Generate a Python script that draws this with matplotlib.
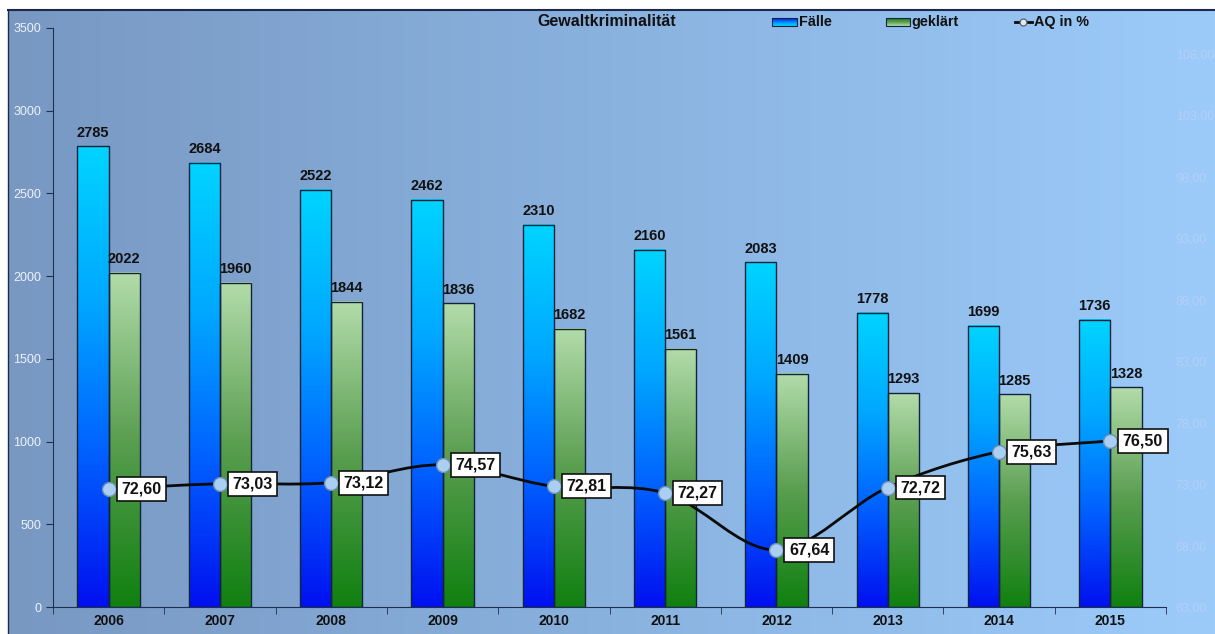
import matplotlib
matplotlib.use('Agg')
import matplotlib.pyplot as plt
import numpy as np
from matplotlib.colors import LinearSegmentedColormap
from matplotlib.patches import Rectangle, PathPatch
from matplotlib.path import Path
from matplotlib.lines import Line2D

plt.rcParams['font.family'] = ['Liberation Sans', 'DejaVu Sans']

years = ['2006', '2007', '2008', '2009', '2010', '2011', '2012', '2013', '2014', '2015']
faelle = [2785, 2684, 2522, 2462, 2310, 2160, 2083, 1778, 1699, 1736]
geklaert = [2022, 1960, 1844, 1836, 1682, 1561, 1409, 1293, 1285, 1328]
aq = [72.60, 73.03, 73.12, 74.57, 72.81, 72.27, 67.64, 72.72, 75.63, 76.50]

left_ticks = [0, 500, 1000, 1500, 2000, 2500, 3000, 3500]
right_ticks = [63, 68, 73, 78, 83, 88, 93, 98, 103, 108]

cm_blue = LinearSegmentedColormap.from_list('b', ['#0010f0', '#0060ff', '#00a8ff', '#00d4ff'])
cm_green = LinearSegmentedColormap.from_list('g', ['#108010', '#5a9e50', '#b2dcaa'])
cm_bg = LinearSegmentedColormap.from_list('bg', ['#7898c2', '#8ab2df', '#9ccbfa'])

fig = plt.figure(figsize=(12.15, 6.34), dpi=100)
W, H = 1215, 634

# background with horizontal gradient
bg = fig.add_axes([8 / W, 0, 1 - 8 / W, (H - 10) / H])
bg.imshow(np.linspace(0, 1, 256)[None, :], aspect='auto', cmap=cm_bg, extent=[0, 1, 0, 1])
bg.set_xlim(0, 1)
bg.set_ylim(0, 1)
bg.axis('off')
fig.add_artist(Line2D([8 / W, 1], [(H - 10) / H] * 2, color='#1a2a48', lw=1.5))
fig.add_artist(Line2D([8 / W] * 2, [0, (H - 10) / H], color='#1a2a48', lw=1.0))

ax = fig.add_axes([53 / W, 27 / H, (1166 - 53) / W, (607 - 28) / H])
ax.set_facecolor('none')
x = np.arange(len(years))
bw = 0.28

b1 = ax.bar(x - bw / 2, faelle, bw, facecolor='none', edgecolor='#15233a', lw=1.0, zorder=3)
b2 = ax.bar(x + bw / 2, geklaert, bw, facecolor='none', edgecolor='#15233a', lw=1.0, zorder=3)
grad = np.linspace(0, 1, 256)[:, None]
for bars, cm in ((b1, cm_blue), (b2, cm_green)):
    for r in bars:
        ax.imshow(grad, aspect='auto', cmap=cm, origin='lower', zorder=2,
                  extent=[r.get_x(), r.get_x() + r.get_width(), 0, r.get_height()])
    for r in bars:
        ax.text(r.get_x() + r.get_width() / 2, r.get_height() + 40, str(int(r.get_height())),
                ha='center', va='bottom', fontsize=10.5, fontweight='bold', color='#111111', zorder=5)

ax.set_xlim(-0.5, len(years) - 0.5)
ax.set_ylim(0, 3500)
ax.set_yticks(left_ticks)
ax.tick_params(axis='y', colors='#1f2f52', labelcolor='#eef2fa', labelsize=9, length=5, direction='out')
ax.set_xticks(x)
ax.set_xticklabels(years, fontsize=10, fontweight='bold', color='#111111')
ax.set_xticks(np.arange(len(years) + 1) - 0.5, minor=True)
ax.tick_params(axis='x', which='major', length=0, pad=5)
ax.tick_params(axis='x', which='minor', length=5, color='#1f2f52', direction='out')
for s in ('top', 'right'):
    ax.spines[s].set_visible(False)
ax.spines['left'].set_color('#1f2f52')
ax.spines['bottom'].set_color('#1f2f52')

ax2 = ax.twinx()
ax2.set_ylim(63, 110.1)
ax2.set_yticks(right_ticks)
ax2.set_yticklabels([('%.2f' % v).replace('.', ',') for v in right_ticks])
ax2.tick_params(axis='y', length=0, labelsize=9, labelcolor='#b4cffa', pad=7)
for s in ax2.spines.values():
    s.set_visible(False)

# smoothed line through AQ points (Catmull-Rom as bezier segments)
px = x.astype(float)
py = np.array(aq)
P = np.column_stack([px, py])
verts = [P[0]]
codes = [Path.MOVETO]
n = len(P)
for i in range(n - 1):
    p0 = P[max(i - 1, 0)]
    p1, p2 = P[i], P[i + 1]
    p3 = P[min(i + 2, n - 1)]
    verts += [p1 + (p2 - p0) / 6, p2 - (p3 - p1) / 6, p2]
    codes += [Path.CURVE4] * 3
ax2.add_patch(PathPatch(Path(verts, codes), facecolor='none', edgecolor='#0a0a0a', lw=2, zorder=4))
ax2.plot(px, py, 'o', ms=10, mfc='#a9cff3', mec='#6f8fb5', mew=1, zorder=5)
for xi, v in zip(px, aq):
    ax2.annotate(('%.2f' % v).replace('.', ','), (xi, v), xytext=(9, 0), textcoords='offset points',
                 ha='left', va='center', fontsize=11.5, fontweight='bold', color='#111111', zorder=6,
                 bbox=dict(boxstyle='square,pad=0.28', fc='white', ec='#111111', lw=1.2))

# title and legend
fig.text(607 / W, 1 - 21 / H, 'Gewaltkriminalität', ha='center', va='center',
         fontsize=11.5, fontweight='bold', color='#111111')
lg = fig.add_axes([0, 0, 1, 1])
lg.set_xlim(0, W)
lg.set_ylim(H, 0)
lg.axis('off')
lg.imshow(np.linspace(0, 1, 64)[:, None], aspect='auto', cmap=cm_blue, origin='upper',
          extent=[772, 797, 26, 18])
lg.add_patch(Rectangle((772, 18), 25, 8, fill=False, ec='#15233a', lw=0.8))
lg.text(799, 22, 'Fälle', va='center', ha='left', fontsize=10.4, fontweight='bold', color='#111111')
lg.imshow(np.linspace(0, 1, 64)[:, None], aspect='auto', cmap=cm_green, origin='upper',
          extent=[886, 910, 26, 18])
lg.add_patch(Rectangle((886, 18), 24, 8, fill=False, ec='#15233a', lw=0.8))
lg.text(911, 22, 'geklärt', va='center', ha='left', fontsize=10.4, fontweight='bold', color='#111111')
lg.plot([1015, 1032], [22, 22], color='#0a0a0a', lw=2)
lg.plot([1023], [22], 'o', ms=5, mfc='#dbe9f8', mec='#555555', mew=0.8)
lg.text(1034, 22, 'AQ in %', va='center', ha='left', fontsize=10.4, fontweight='bold', color='#111111')
lg.set_xlim(0, W)
lg.set_ylim(H, 0)

fig.savefig('out.png', dpi=100)
